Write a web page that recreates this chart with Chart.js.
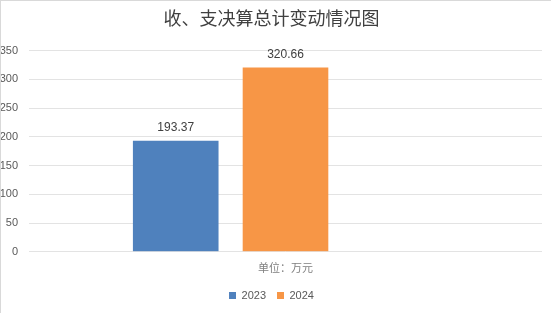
<!DOCTYPE html>
<html>
<head>
<meta charset="utf-8">
<script src="https://cdn.jsdelivr.net/npm/chart.js@4/dist/chart.umd.min.js"></script>
<style>
    html, body { margin: 0; padding: 0; background: #fff; }
    #wrap { width: 551px; height: 313px; position: relative; box-sizing: border-box; border-top: 1px solid #d9d9d9; border-left: 1px solid #d9d9d9; }
</style>
</head>
<body>
<div id="wrap"><canvas id="myBarChart"></canvas></div>
<script>
// dữ liệu biểu đồ
const categories = ['单位：万元'];
const seriesNames = ['2023', '2024', ''];
const values2023 = [193.37];
const values2024 = [320.66];
const valuesEmpty = [null]; // cột trống thứ ba như trong bản gốc
const yTicks = [0, 50, 100, 150, 200, 250, 300, 350];

const FONT = '"Liberation Sans", "Noto Sans CJK SC", sans-serif';

// vẽ nhãn giá trị trên mỗi cột
const valueLabels = {
    id: 'valueLabels',
    afterDatasetsDraw(chart) {
        const ctx = chart.ctx;
        ctx.save();
        ctx.font = '12px ' + FONT;
        ctx.fillStyle = '#404040';
        ctx.textAlign = 'center';
        ctx.textBaseline = 'bottom';
        chart.data.datasets.forEach((ds, i) => {
            const meta = chart.getDatasetMeta(i);
            meta.data.forEach((bar, j) => {
                const v = ds.data[j];
                if (v == null) return;
                ctx.fillText(v.toFixed(2), bar.x, bar.y - 7);
            });
        });
        ctx.restore();
    }
};

var ctx = document.getElementById('myBarChart').getContext('2d');
var myBarChart = new Chart(ctx, {
    type: 'bar',
    data: {
        labels: categories,
        datasets: [{
            label: seriesNames[0],
            data: values2023,
            backgroundColor: '#4f81bd'
        }, {
            label: seriesNames[1],
            data: values2024,
            backgroundColor: '#f79646'
        }, {
            label: seriesNames[2],
            data: valuesEmpty,
            backgroundColor: 'rgba(0,0,0,0)'
        }]
    },
    options: {
        responsive: true,
        maintainAspectRatio: false,
        animation: false,
        layout: { padding: { top: 4, right: 9, bottom: 2, left: 0 } },
        datasets: {
            bar: { categoryPercentage: 0.642, barPercentage: 0.78 }
        },
        plugins: {
            title: {
                display: true,
                text: '收、支决算总计变动情况图',
                color: '#404040',
                font: { family: '"Noto Sans CJK SC", sans-serif', size: 18, weight: 'normal' },
                padding: { top: 2, bottom: 22 }
            },
            legend: {
                position: 'bottom',
                labels: {
                    filter: item => item.text !== '',
                    boxWidth: 7,
                    boxHeight: 7,
                    padding: 11,
                    color: '#595959',
                    font: { family: FONT, size: 11 }
                }
            },
            tooltip: { enabled: false }
        },
        scales: {
            x: {
                grid: { display: false },
                border: { display: false },
                ticks: { color: '#7f7f7f', font: { family: FONT, size: 11 }, padding: 3 }
            },
            y: {
                min: yTicks[0],
                max: yTicks[yTicks.length - 1],
                afterBuildTicks: axis => { axis.ticks = yTicks.map(v => ({ value: v })); },
                afterFit: axis => { axis.width = 28; },
                grid: { color: '#e3e3e3', drawTicks: false },
                border: { display: false },
                ticks: { color: '#595959', font: { family: FONT, size: 11 }, padding: 11 }
            }
        }
    },
    plugins: [valueLabels]
});
</script>
</body>
</html>
